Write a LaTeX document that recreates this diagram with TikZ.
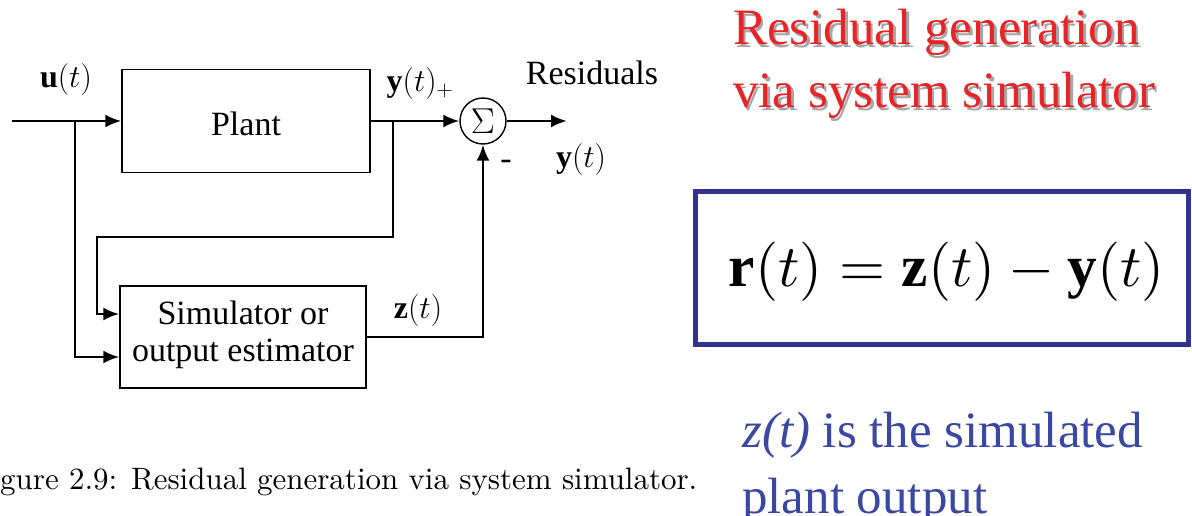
\RequirePackage{fix-cm}
\documentclass[tikz,border=0pt]{standalone}
\usepackage{fontspec}
\setmainfont{Liberation Serif}
\newfontfamily\lmfont{Latin Modern Roman}
\newfontfamily\tnr{Liberation Serif}
\usetikzlibrary{arrows.meta}
\definecolor{titlered}{RGB}{232,36,40}
\definecolor{navy}{RGB}{48,52,140}
\definecolor{textblue}{RGB}{58,72,162}
\tikzset{
  blk/.style={draw, line width=1.4pt, rectangle, inner sep=0pt},
  wire/.style={line width=2.6pt},
  arr/.style={wire, -{Latex[length=16pt,width=13pt]}},
  lbl/.style={inner sep=0pt, font=\tnr\fontsize{34}{37}\selectfont},
  mlbl/.style={inner sep=0pt, font=\fontsize{32}{35}\selectfont},
}
\begin{document}
\begin{tikzpicture}[x=1pt,y=-1pt]
\useasboundingbox (0,0) rectangle (1192,516);
% blocks
\node[blk, minimum width=248pt, minimum height=103pt] (plant) at (246,121) {};
\node[lbl] (plantt) at (246,124) {Plant};
\node[blk, minimum width=246pt, minimum height=102pt] (sim) at (243,337) {};
\node[lbl, align=center] (simt) at (243,335) {Simulator or\\output estimator};
\node[draw, circle, line width=1.4pt, minimum size=46pt, inner sep=0pt] (sum) at (483,121) {};
\node[inner sep=0pt, font=\fontsize{36}{40}\selectfont] (sig) at (483,121) {$\Sigma$};
% coordinates
\coordinate (in) at (12,121);
\coordinate (b1) at (75,121);
\coordinate (b1d) at (75,357);
\coordinate (fb) at (393,121);
\coordinate (fbd) at (393,237);
\coordinate (fbl) at (97,237);
\coordinate (fbs) at (97,314);
\coordinate (zs) at (366,337);
\coordinate (zc) at (483,337);
\coordinate (out) at (567,121);
% connectors
\draw[arr] (in) -- (plant.west);
\draw[arr] (b1) -- (b1d) -- (sim.west |- b1d);
\draw[arr] (plant.east) -- (sum.west);
\draw[arr] (fb) -- (fbd) -- (fbl) -- (fbs) -- (sim.west |- fbs);
\draw[arr] (zs) -- (zc) -- (sum.south);
\draw[arr] (sum.east) -- (out);
% labels
\node[mlbl] (ul) at (66,80) {$\mathbf{u}(t)$};
\node[mlbl] (yl) at (420,84) {$\mathbf{y}(t)_+$};
\node[lbl] (res) at (592,73) {Residuals};
\node[mlbl] (yo) at (581,160) {$\mathbf{y}(t)$};
\node[lbl] (minus) at (506,165) {-};
\node[mlbl] (zl) at (418,310) {$\mathbf{z}(t)$};
% caption
\node[anchor=west, inner sep=0pt] (cap) at (0,482) {\resizebox{697pt}{!}{\lmfont gure 2.9: Residual generation via system simulator.}};
% title with shadow
\node[anchor=north west, inner sep=0pt, align=left, text=black!35, font=\tnr\fontsize{51}{63}\selectfont] (titsh) at (735.5,11.5) {Residual generation\\via system simulator};
\node[anchor=north west, inner sep=0pt, align=left, text=titlered, font=\tnr\fontsize{51}{63}\selectfont] (tit) at (733,9) {Residual generation\\via system simulator};
% formula box
\node[draw=navy, line width=5pt, minimum width=493pt, minimum height=153pt, inner sep=0pt] (fbox) at (941.5,268) {};
\node[inner sep=0pt] (form) at (947,272) {\resizebox{436pt}{!}{$\mathbf{r}(t) = \mathbf{z}(t) - \mathbf{y}(t)$}};
% blue note
\node[anchor=north west, inner sep=0pt, align=left, text=textblue, font=\tnr\fontsize{51}{66}\selectfont] (note) at (742,412) {\textit{z(t)} is the simulated\\plant output};
\end{tikzpicture}
\end{document}
